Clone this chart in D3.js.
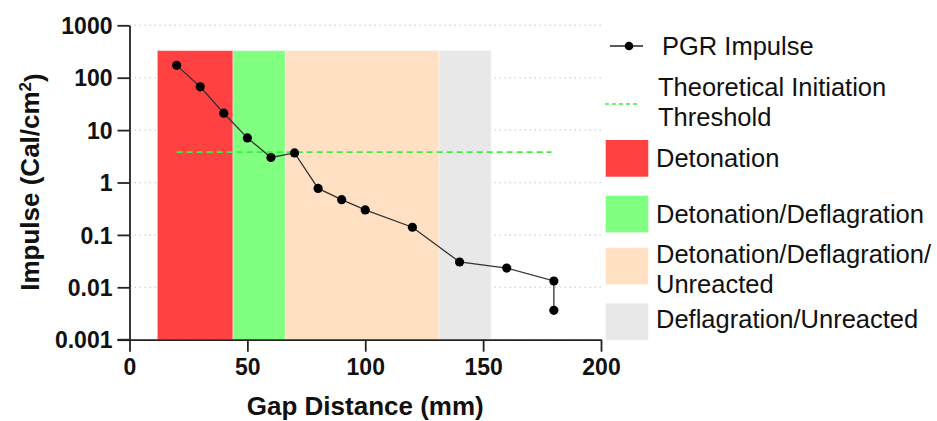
<!DOCTYPE html>
<html>
<head>
<meta charset="utf-8">
<script src="https://cdn.jsdelivr.net/npm/d3@7"></script>
<style>
    body { margin: 0; background: #fff; }
    text { font-family: "Liberation Sans", Arial, sans-serif; }
</style>
</head>
<body>
<svg class="chart"></svg>
<script>
// data
var gap = [20, 30, 40, 50, 60, 70, 80, 90, 100, 120, 140, 160, 180, 180];
var impulse = [172, 67, 21, 7.1, 3.0, 3.66, 0.77, 0.47, 0.30, 0.14, 0.0304, 0.0233, 0.0132, 0.00364];

var threshold = 3.8;
var thresholdFrom = 20;
var thresholdTo = 179;

var zoneNames = ["Detonation", "Detonation/Deflagration", "Detonation/Deflagration/|Unreacted", "Deflagration/Unreacted"];
var zoneStart = [11.8, 43.9, 66.1, 131.3];
var zoneEnd = [43.9, 66.1, 131.3, 153.4];
var zoneTop = 330;
var zoneColors = ["#ff4141", "#80ff80", "#ffe0c2", "#e8e8e8"];

var yTicks = [0.001, 0.01, 0.1, 1, 10, 100, 1000];
var xTicks = [0, 50, 100, 150, 200];

var width = 937;
var height = 421;

var chart = d3.select(".chart")
    .attr("width", width)
    .attr("height", height);

var x = d3.scaleLinear().domain([0, 200]).range([129.5, 601]);
var y = d3.scaleLog().domain([0.001, 1000]).range([339.7, 25.3]);

// grid
chart.append("g")
    .selectAll("line")
    .data(yTicks)
    .enter().append("line")
    .attr("x1", x(0))
    .attr("x2", x(200))
    .attr("y1", function(d) { return y(d); })
    .attr("y2", function(d) { return y(d); })
    .attr("stroke", "#d8d8d8")
    .attr("stroke-width", 1.5)
    .attr("stroke-dasharray", "1.5,3.5");

// zones
chart.append("g")
    .selectAll("rect")
    .data(zoneStart)
    .enter().append("rect")
    .attr("x", function(d) { return x(d); })
    .attr("width", function(d, i) { return x(zoneEnd[i]) - x(d); })
    .attr("y", y(zoneTop))
    .attr("height", y(0.001) - y(zoneTop))
    .attr("fill", function(d, i) { return zoneColors[i]; })
    .attr("stroke", "#fff")
    .attr("stroke-opacity", 0.45)
    .attr("stroke-width", 1);

// threshold
chart.append("line")
    .attr("x1", x(thresholdFrom))
    .attr("x2", x(thresholdTo))
    .attr("y1", y(threshold))
    .attr("y2", y(threshold))
    .attr("stroke", "#3ef03e")
    .attr("stroke-width", 1.8)
    .attr("stroke-dasharray", "6,4");

// axes
var yAxis = d3.axisLeft(y)
    .tickValues(yTicks)
    .tickFormat(function(d) { return String(d); })
    .tickSize(12)
    .tickSizeOuter(0)
    .tickPadding(5);

var xAxis = d3.axisBottom(x)
    .tickValues(xTicks)
    .tickSize(12)
    .tickSizeOuter(0)
    .tickPadding(7);

var gy = chart.append("g")
    .attr("transform", "translate(" + x(0) + ",0)")
    .call(yAxis);

var gx = chart.append("g")
    .attr("transform", "translate(0," + y(0.001) + ")")
    .call(xAxis);

[gx, gy].forEach(function(g) {
    g.select(".domain").attr("stroke", "#222").attr("stroke-width", 1.8);
    g.selectAll(".tick line").attr("stroke", "#222").attr("stroke-width", 1.8);
    g.selectAll(".tick text")
        .attr("fill", "#111")
        .style("font-size", "23px")
        .style("font-weight", "bold")
        .style("font-family", "'Liberation Sans', Arial, sans-serif");
});
gy.selectAll(".tick text").attr("dy", "0.36em");

// x axis line runs across the bottom y tick too
gx.append("line")
    .attr("x1", x(0) - 12)
    .attr("x2", x(0))
    .attr("stroke", "#222")
    .attr("stroke-width", 1.8);

// data line and points
var line = d3.line()
    .x(function(d, i) { return x(gap[i]); })
    .y(function(d) { return y(d); });

chart.append("path")
    .datum(impulse)
    .attr("d", line)
    .attr("fill", "none")
    .attr("stroke", "#333")
    .attr("stroke-width", 1.3);

chart.append("g")
    .selectAll("circle")
    .data(impulse)
    .enter().append("circle")
    .attr("cx", function(d, i) { return x(gap[i]); })
    .attr("cy", function(d) { return y(d); })
    .attr("r", 4.6)
    .attr("fill", "#000");

// titles
chart.append("text")
    .attr("x", (x(0) + x(200)) / 2)
    .attr("y", 415)
    .attr("text-anchor", "middle")
    .style("font-size", "26px")
    .style("font-weight", "bold")
    .attr("fill", "#111")
    .text("Gap Distance (mm)");

var yTitle = chart.append("text")
    .attr("transform", "translate(39,182) rotate(-90)")
    .attr("text-anchor", "middle")
    .style("font-size", "26px")
    .style("font-weight", "bold")
    .attr("fill", "#111");
yTitle.append("tspan").text("Impulse (Cal/cm");
yTitle.append("tspan").attr("dy", "-0.45em").style("font-size", "17px").text("2");
yTitle.append("tspan").attr("dy", "0.45em").text(")");

// legend
var legend = chart.append("g");
var legendFont = "25.5px";

legend.append("line")
    .attr("x1", 610).attr("x2", 643)
    .attr("y1", 46).attr("y2", 46)
    .attr("stroke", "#222").attr("stroke-width", 1.5);
legend.append("circle")
    .attr("cx", 629).attr("cy", 46).attr("r", 4.3).attr("fill", "#000");
legend.append("text")
    .attr("x", 662).attr("y", 55)
    .style("font-size", legendFont).attr("fill", "#111")
    .text("PGR Impulse");

legend.append("line")
    .attr("x1", 605).attr("x2", 639)
    .attr("y1", 104).attr("y2", 104)
    .attr("stroke", "#3ef03e").attr("stroke-width", 1.5)
    .attr("stroke-dasharray", "4,3");
legend.append("text")
    .attr("x", 658).attr("y", 96)
    .style("font-size", legendFont).attr("fill", "#111")
    .text("Theoretical Initiation");
legend.append("text")
    .attr("x", 658).attr("y", 126)
    .style("font-size", legendFont).attr("fill", "#111")
    .text("Threshold");

var swatchTop = [140, 195.7, 247.7, 303.3];
var labelBase = [166.7, 222.7, 263.3, 328.3];

var item = legend.selectAll(".zone-item")
    .data(zoneNames)
    .enter().append("g")
    .attr("class", "zone-item");

item.append("rect")
    .attr("x", 605.7)
    .attr("y", function(d, i) { return swatchTop[i]; })
    .attr("width", 42.6)
    .attr("height", 36.7)
    .attr("fill", function(d, i) { return zoneColors[i]; });

item.each(function(d, i) {
    var parts = d.split("|");
    var g = d3.select(this);
    parts.forEach(function(p, j) {
        g.append("text")
            .attr("x", 656)
            .attr("y", labelBase[i] + j * 29.4)
            .style("font-size", legendFont)
            .attr("fill", "#111")
            .text(p);
    });
});
</script>
</body>
</html>
